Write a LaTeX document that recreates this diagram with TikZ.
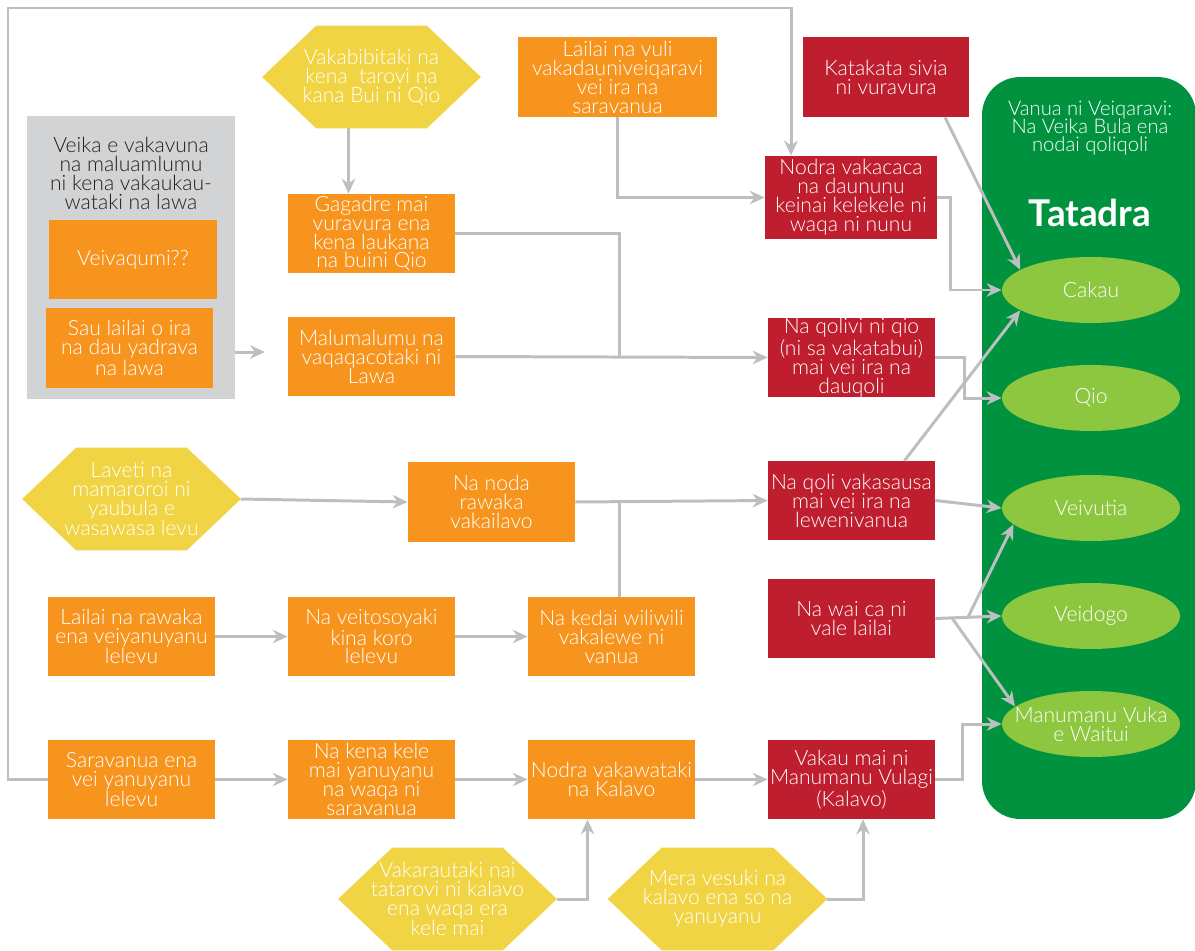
\documentclass[tikz,border=0pt]{standalone}
\usepackage{fontspec}
\setmainfont{Lato}[UprightFont=* Light, BoldFont=* Bold]
\usetikzlibrary{arrows.meta,shapes.geometric,backgrounds,calc}
\definecolor{orng}{HTML}{F7941D}
\definecolor{redb}{HTML}{BE1E2D}
\definecolor{yel}{HTML}{F1D443}
\definecolor{grn}{HTML}{00923F}
\definecolor{lgrn}{HTML}{8DC63F}
\definecolor{gbox}{HTML}{D1D3D4}
\definecolor{conn}{HTML}{BCBEC0}
\definecolor{dtext}{HTML}{231F20}
\begin{document}
\begin{tikzpicture}[x=0.02cm,y=-0.02cm,
  txt/.style={align=center, text=white, font=\fontsize{12}{10.8}\selectfont, inner sep=0pt},
  obox/.style={txt, fill=orng, minimum width=3.34cm, minimum height=1.58cm},
  rbox/.style={txt, fill=redb, minimum width=3.34cm, minimum height=1.58cm},
  hexn/.style={txt, minimum width=4.36cm, minimum height=2.04cm},
  oval/.style={txt, ellipse, fill=lgrn, minimum width=3.56cm, minimum height=1.32cm},
  wire/.style={draw=conn, line width=1.7pt},
  arr/.style={wire, -{Stealth[length=0.3cm,width=0.27cm]}},
]
\useasboundingbox (0,0) rectangle (1195,950);

% containers
\node[fill=gbox, minimum width=4.16cm, minimum height=5.66cm, inner sep=0pt] (greybox) at (131,257.5) {};
\node[fill=grn, rounded corners=0.76cm, minimum width=4.28cm, minimum height=14.84cm, inner sep=0pt] (panel) at (1089,448) {};

% grey box contents
\node[align=center, text=dtext, font=\fontsize{12}{10.8}\selectfont, inner sep=0pt] (greytitle) at (131,173) {Veika e vakavuna\\na maluamlumu\\ni kena vakaukau-\\wataki na lawa};
\node[obox, minimum width=3.36cm] (vaqumi) at (133,259.5) {Veivaqumi??};
\node[obox, minimum height=1.6cm] (sau) at (129.5,348) {Sau lailai o ira\\na dau yadrava\\na lawa};
\coordinate (grayend) at (265,352);

% top area
\node[hexn] (bibi) at (371.5,77) {Vakabibitaki na\\kena\ \ tarovi na\\kana Bui ni Qio};
\node[obox] (gag) at (371.5,233.5) {Gagadre mai\\vuravura ena\\kena laukana\\na buini Qio};
\node[obox] (malum) at (371.5,356.5) {Malumalumu na\\vaqaqacotaki ni\\Lawa};
\node[obox, minimum width=3.98cm, minimum height=1.6cm] (vuli) at (617.5,77) {Lailai na vuli\\vakadauniveiqaravi\\vei ira na\\saravanua};
\node[rbox, minimum width=3.32cm, minimum height=1.6cm] (kat) at (886,77) {Katakata sivia\\ni vuravura};
\node[rbox, minimum width=3.44cm, minimum height=1.66cm] (cacaka) at (851,197.5) {Nodra vakacaca\\na daununu\\keinai kelekele ni\\waqa ni nunu};
\node[rbox] (qolivi) at (851.5,357.5) {Na qolivi ni qio\\(ni sa vakatabui)\\mai vei ira na\\dauqoli};

% middle
\node[hexn] (lav) at (131.5,499) {Laveti na\\mamaroroi ni\\yaubula e\\wasawasa levu};
\node[obox, minimum height=1.6cm] (noda) at (491.5,502) {Na noda\\rawaka\\vakailavo};
\node[rbox] (sausa) at (851.5,500.5) {Na qoli vakasausa\\mai vei ira na\\lewenivanua};
\node[obox] (rawaka) at (131.5,636.5) {Lailai na rawaka\\ena veiyanuyanu\\lelevu};
\node[obox] (toso) at (371.5,636.5) {Na veitosoyaki\\kina koro\\lelevu};
\node[obox] (kedai) at (611.5,636.5) {Na kedai wiliwili\\vakalewe ni\\vanua};
\node[rbox] (waica) at (851.5,618.5) {Na wai ca ni\\vale lailai};

% bottom
\node[obox] (sarav) at (131.5,779.5) {Saravanua ena\\vei yanuyanu\\lelevu};
\node[obox] (kele) at (371.5,779.5) {Na kena kele\\mai yanuyanu\\na waqa ni\\saravanua};
\node[obox] (vakaw) at (611.5,779.5) {Nodra vakawataki\\na Kalavo};
\node[rbox] (vakau) at (851.5,779.5) {Vakau mai ni\\Manumanu Vulagi\\(Kalavo)};
\node[hexn] (vakar) at (447.5,899) {Vakarautaki nai\\tatarovi ni kalavo\\ena waqa era\\kele mai};
\node[hexn, minimum width=4.38cm] (mera) at (717.5,899) {Mera vesuki na\\kalavo ena so na\\yanuyanu};

% panel contents
\node[txt, font=\fontsize{11.5}{10.4}\selectfont] (ptitle) at (1090,128) {Vanua ni Veiqaravi:\\Na Veika Bula ena\\nodai qoliqoli};
\node[txt, font=\fontsize{21}{24}\bfseries] (tatadra) at (1090,213) {Tatadra};
\node[oval] (cakau) at (1091,290) {Cakau};
\node[oval] (qio) at (1091,398) {Qio};
\node[oval] (vutia) at (1091,508) {Veivutia};
\node[oval] (dogo) at (1091,616) {Veidogo};
\node[oval] (manu) at (1091,724) {};
\node[txt] (manutxt) at (manu.center) {Manumanu Vuka\\e Waitui};

% hexagon fills
\begin{scope}[on background layer]
\foreach \h in {bibi,lav,vakar,mera}
  \fill[yel] (\h.west) -- ($(\h.north west)+(54,0)$) -- ($(\h.north east)+(-54,0)$)
    -- (\h.east) -- ($(\h.south east)+(-54,0)$) -- ($(\h.south west)+(54,0)$) -- cycle;
\end{scope}

% coordinates for bends
\coordinate (loopA) at (8,8);
\coordinate (loopB) at (791,8);
\coordinate (j1) at (619,356.5);
\coordinate (j2) at (619,502);

% connectors
\draw[arr] (sarav.west) -| (loopA) -| (cacaka.north -| loopB);
\draw[arr] (greybox.east |- grayend) -- (grayend);
\draw[arr] ($(bibi.south)+(-23,0)$) -- ($(gag.north)+(-23,0)$);
\draw[wire] (gag.east) -| (j1);
\draw[arr] (malum.east) -- (qolivi.west);
\draw[arr] (vuli.south) |- (cacaka.west);
\draw[arr] (cacaka.east) -- ++(13,0) |- (cakau.west);
\draw[arr] ($(kat.south)+(59,0)$) -- (cakau.164);
\draw[arr] (qolivi.east) -- ++(29,0) |- (qio.west);
\draw[arr] ($(sausa.north)+(53,0)$) -- (cakau.196);
\draw[arr] (lav.east) -- (noda.west);
\draw[arr] (noda.east) -- (sausa.west);
\draw[wire] (j2) -- (j2 |- kedai.north);
\draw[arr] (sausa.east) -- (vutia.west);
\draw[arr] (waica.east) -- (dogo.west);
\draw[arr] ($(waica.east)+(32,0)$) -- (vutia.192);
\draw[arr] ($(waica.east)+(17,0)$) -- (manu.167);
\draw[arr] (vakau.east) -- ++(27,0) |- (manu.west);
\draw[arr] (rawaka.east) -- (toso.west);
\draw[arr] (toso.east) -- (kedai.west);
\draw[arr] (sarav.east) -- (kele.west);
\draw[arr] (kele.east) -- (vakaw.west);
\draw[arr] (vakaw.east) -- (vakau.west);
\draw[arr] (vakar.east) -| ($(vakaw.south)+(-24,0)$);
\draw[arr] (mera.east) -| ($(vakau.south)+(11.5,0)$);
\end{tikzpicture}
\end{document}
